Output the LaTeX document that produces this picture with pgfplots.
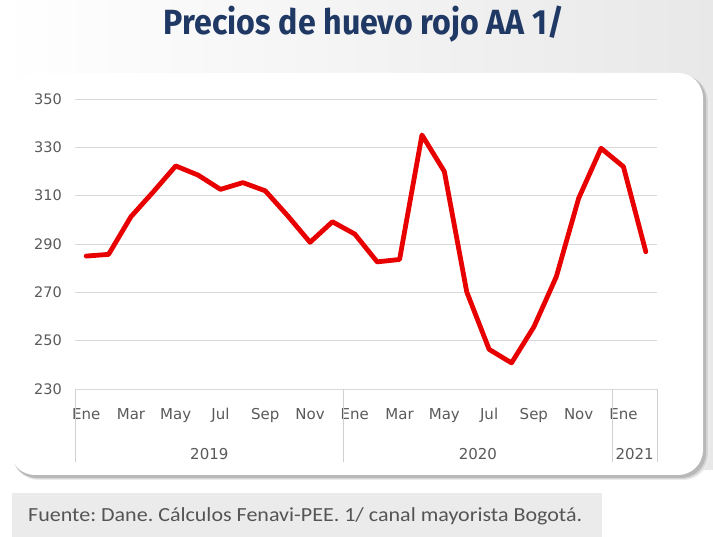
\documentclass[border=0pt]{standalone}
\usepackage{pgfplots}
\pgfplotsset{compat=1.18}
\usepackage{fontspec}
\setmainfont{DejaVu Sans}
\newfontfamily\titlefont{Fira Sans}
\newfontfamily\footfont{Carlito}
\definecolor{navy}{RGB}{31,56,100}
\definecolor{gridc}{RGB}{217,217,217}
\definecolor{sepc}{RGB}{208,208,208}
\definecolor{labc}{RGB}{90,90,90}
\definecolor{redl}{RGB}{232,0,0}
\definecolor{footbg}{RGB}{235,235,235}
\definecolor{foottx}{RGB}{85,85,85}
\pgfplotstableread{
i v
0 285.0
1 285.7
2 301.3
3 311.6
4 322.3
5 318.5
6 312.6
7 315.4
8 312.0
9 301.7
10 290.7
11 299.2
12 294.1
13 282.6
14 283.6
15 335.1
16 320.0
17 270.2
18 246.4
19 240.8
20 255.7
21 276.4
22 308.9
23 329.6
24 322.0
25 286.8
}\pricedata
\begin{document}
\frenchspacing
\begin{tikzpicture}[x=1pt,y=1pt]
\useasboundingbox (0,0) rectangle (713,537);
\fill[white] (0,0) rectangle (713,537);
\shade[left color=white, right color=black!9] (0,67) rectangle (713,537);
% panel shadow
\fill[black!8, rounded corners=27pt] (12,57) rectangle (710,462);
\fill[black!16, rounded corners=26pt] (12,58) rectangle (708,462);
\fill[black!28, rounded corners=25pt] (12,59) rectangle (706,462);
% panel
\fill[white, rounded corners=25pt] (10,62) rectangle (703,464);
% title
\node[anchor=base, inner sep=0pt, text=navy] at (364,502)
  {\resizebox{400pt}{\height}{\fontsize{35}{40}\selectfont\titlefont\bfseries Precios de huevo rojo AA 1/}};
% footer
\fill[footbg] (12,0) rectangle (602,44);
\node[anchor=base west, inner sep=0pt, text=foottx] at (28,15)
  {\resizebox{554pt}{\height}{\fontsize{20}{24}\selectfont\footfont Fuente: Dane. Cálculos Fenavi-PEE. 1/ canal mayorista Bogotá.}};
\begin{axis}[
  scale only axis, width=582pt, height=290pt,
  at={(75pt,148pt)}, anchor=south west,
  xmin=-0.5, xmax=25.5, ymin=230, ymax=350,
  ytick={230,250,...,350},
  xtick={0,2,...,24},
  xticklabels={Ene,Mar,May,Jul,Sep,Nov,Ene,Mar,May,Jul,Sep,Nov,Ene},
  ymajorgrids, grid style={draw=gridc, line width=0.9pt},
  axis x line*=bottom, axis y line*=left,
  x axis line style={draw=gridc, line width=0.9pt, -},
  y axis line style={draw=none},
  major tick length=0pt,
  xtick style={draw=none}, ytick style={draw=none},
  /pgf/number format/assume math mode=true,
  /pgf/number format/1000 sep={},
  yticklabel style={font=\fontsize{14.5}{16}\selectfont, text=labc, anchor=east, inner sep=0pt, xshift=-13pt},
  xticklabel style={font=\fontsize{15}{17}\selectfont, text=labc, anchor=base, inner sep=0pt, yshift=-31pt},
  clip=false,
]
\addplot[redl, line width=4.8pt, line join=round, line cap=round] table[x=i, y=v] {\pricedata};
\draw[sepc, line width=0.8pt] (axis cs:-0.5,230) -- ([yshift=-73pt]axis cs:-0.5,230);
\draw[sepc, line width=0.8pt] (axis cs:11.5,230) -- ([yshift=-73pt]axis cs:11.5,230);
\draw[sepc, line width=0.8pt] (axis cs:23.5,230) -- ([yshift=-73pt]axis cs:23.5,230);
\draw[sepc, line width=0.8pt] (axis cs:25.5,230) -- ([yshift=-73pt]axis cs:25.5,230);
\node[anchor=base, inner sep=0pt, text=labc, font=\fontsize{15}{17}\selectfont] at ([yshift=-71pt]axis cs:5.5,230) {2019};
\node[anchor=base, inner sep=0pt, text=labc, font=\fontsize{15}{17}\selectfont] at ([yshift=-71pt]axis cs:17.5,230) {2020};
\node[anchor=base, inner sep=0pt, text=labc, font=\fontsize{15}{17}\selectfont] at ([yshift=-71pt]axis cs:24.5,230) {2021};
\end{axis}
\end{tikzpicture}
\end{document}
